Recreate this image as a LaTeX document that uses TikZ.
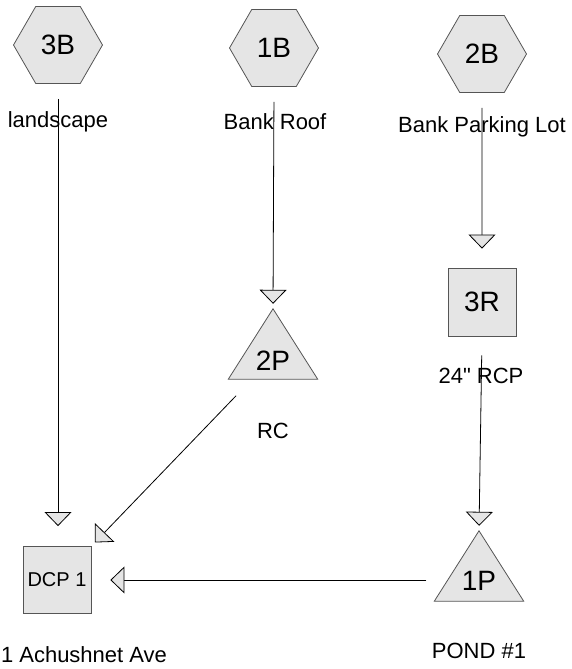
\documentclass[tikz,border=0pt]{standalone}
\usepackage{fontspec}
\setmainfont[Ligatures=TeXOff]{Liberation Sans}
\usetikzlibrary{shapes.geometric,arrows.meta,calc}
\definecolor{boxfill}{RGB}{229,229,229}
\definecolor{edgec}{RGB}{85,85,85}
\tikzset{
  hexa/.style={regular polygon, regular polygon sides=6, minimum size=89pt, inner sep=0pt,
    draw=edgec, fill=boxfill, line width=0.8pt, font=\fontsize{28}{30}\selectfont},
  sqbox/.style={rectangle, minimum width=68pt, minimum height=68pt, inner sep=0pt,
    draw=edgec, fill=boxfill, line width=0.8pt},
  tribox/.style={rectangle, minimum width=89pt, minimum height=70pt, inner sep=0pt},
  trishape/.style={draw=edgec, fill=boxfill, line width=0.8pt, line join=miter},
  bigtxt/.style={font=\fontsize{28}{30}\selectfont, inner sep=0pt},
  lbl/.style={font=\fontsize{22}{24}\selectfont, inner sep=0pt, anchor=base},
  flow/.style={draw=black, line width=0.8pt,
    -{Triangle[width=27pt,length=14pt,fill=boxfill,line width=0.8pt]}},
}
\begin{document}
\begin{tikzpicture}[x=1pt,y=1pt]
\useasboundingbox (0,0) rectangle (572,669);
% hexagons
\node[hexa] (b3) at (58,624) {3B};
\node[hexa] (b1) at (274,621) {1B};
\node[hexa] (b2) at (482,615) {2B};
% reach 3R
\node[sqbox, font=\fontsize{28}{30}\selectfont] (r3) at (482,367) {3R};
% ponds
\node[tribox] (p2) at (273,325) {};
\draw[trishape] (p2.north) -- (p2.south east) -- (p2.south west) -- cycle;
\node[bigtxt, anchor=base] (p2t) at ($(p2.south)+(0,9)$) {2P};
\node[tribox] (p1) at (479,103) {};
\draw[trishape] (p1.north) -- (p1.south east) -- (p1.south west) -- cycle;
\node[bigtxt, anchor=base] (p1t) at ($(p1.south)+(0,11)$) {1P};
% design point
\node[sqbox, minimum height=67pt, font=\fontsize{20}{22}\selectfont] (dcp) at (57,89) {DCP 1};
% connectors (drawn before labels so labels sit over them)
\draw[flow, shorten <=15pt, shorten >=20pt] (b3.south) -- (b3.south |- dcp.north);
\draw[flow, shorten <=15pt, shorten >=5pt] (b1.south) -- (p2.north);
\draw[flow, shorten <=15pt, shorten >=19pt] (b2.south) -- (r3.north);
\draw[flow, shorten <=19pt, shorten >=5pt] (r3.south) -- (p1.north);
\draw[flow, shorten <=23pt, shorten >=5pt] ($(p2.south)!0.47!(p2.south west)$) -- (dcp.north east);
\draw[flow, shorten <=8pt, shorten >=19pt] (p1.west |- dcp.east) -- (dcp.east);
% labels
\node[lbl] (l3) at (58,541) {landscape};
\node[lbl] (l1) at (275,539) {Bank Roof};
\node[lbl] (l2) at (482,536) {Bank Parking Lot};
\node[lbl] (lr) at (481,285) {24" RCP};
\node[lbl] (lp2) at (273,230) {RC};
\node[lbl] (lp1) at (479,10) {POND \#1};
\node[lbl] (ld) at (84,6) {1 Achushnet Ave};
\end{tikzpicture}
\end{document}
